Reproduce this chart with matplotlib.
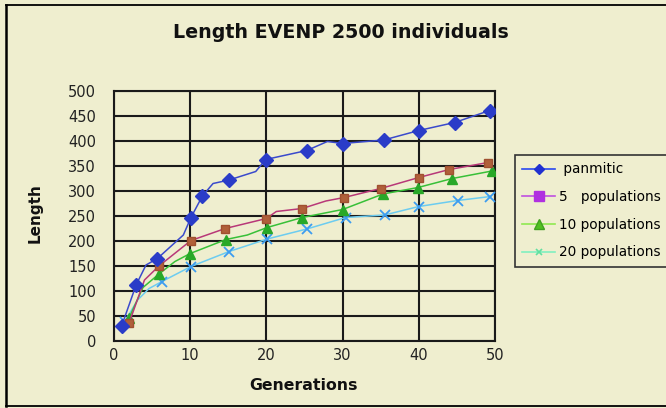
import matplotlib
matplotlib.use("Agg")
import matplotlib.pyplot as plt
from matplotlib.lines import Line2D

# ---- data ----
pan_x = [1, 2.9, 4.2, 5.7, 9.1, 10.1, 11.6, 13, 15.1, 18.6, 19.9, 25.3, 28, 30, 35.4, 40, 44.7, 49.3]
pan_y = [30, 112, 152, 165, 212, 247, 290, 315, 322, 339, 363, 381, 399, 395, 402, 421, 437, 461]
pan_mk = [0, 1, 3, 5, 6, 8, 10, 11, 13, 14, 15, 16, 17]

p5_x = [2, 4, 5.9, 10.1, 14.6, 20, 21.3, 24.7, 27.8, 30.2, 35, 40, 44, 49.1]
p5_y = [37, 122, 150, 201, 225, 245, 259, 265, 280, 287, 305, 327, 343, 357]
p5_mk = [0, 2, 3, 4, 5, 7, 9, 10, 11, 12, 13]

p10_x = [2, 3.8, 5.9, 8.0, 10, 14.7, 17.5, 20.1, 24.7, 30, 35.3, 39.9, 44.4, 49.6]
p10_y = [47, 107, 134, 159, 175, 203, 212, 227, 247, 263, 294, 307, 325, 340]
p10_mk = [0, 2, 4, 5, 7, 8, 9, 10, 11, 12, 13]

p20_x = [1.4, 3.1, 4.6, 6.3, 10.1, 15.1, 20.1, 25.3, 30.4, 35.5, 40, 45.1, 49.4]
p20_y = [39, 82, 105, 119, 149, 179, 204, 224, 247, 252, 269, 281, 289]
p20_mk = [0, 3, 4, 5, 6, 7, 8, 9, 10, 11, 12]

labels = [" panmitic", "5   populations", "10 populations", "20 populations"]
x_ticks = [0, 10, 20, 30, 40, 50]
y_ticks = [0, 50, 100, 150, 200, 250, 300, 350, 400, 450, 500]

title = "Length EVENP 2500 individuals"
xlabel = "Generations"
ylabel = "Length"

bg = "#EFEECF"

fig = plt.figure(figsize=(6.66, 4.08), dpi=100, facecolor=bg)
ax = fig.add_axes([114/666, 1-341/408, (495-114)/666, (341-91)/408], facecolor=bg)

ax.plot(pan_x, pan_y, color="#3A4ACC", lw=1.1, marker="D", ms=7.5, mfc="#2A3CC8", mec="#2A3CC8",
        markevery=pan_mk, zorder=6)
ax.plot(p5_x, p5_y, color="#B83878", lw=1.1, marker="s", ms=5.5, mfc="#B0603A", mec="#A05030",
        markevery=p5_mk, zorder=5)
ax.plot(p10_x, p10_y, color="#38C038", lw=1.1, marker="^", ms=6.5, mfc="#28A828", mec="#28A828",
        markevery=p10_mk, zorder=4)
ax.plot(p20_x, p20_y, color="#6CCCF0", lw=1.1, marker="x", ms=7, mec="#3C9CF0", mew=1.3,
        markevery=p20_mk, zorder=3)

ax.set_xlim(0, 50)
ax.set_ylim(0, 500)
ax.set_xticks(x_ticks)
ax.set_yticks(y_ticks)
ax.grid(True, color="#1A1A1A", lw=1.5)
ax.set_axisbelow(True)
for s in ax.spines.values():
    s.set_color("#1A1A1A")
    s.set_linewidth(1.5)
ax.tick_params(axis="both", length=0, labelsize=10.5, colors="#222222")
ax.tick_params(axis="y", pad=13)
ax.tick_params(axis="x", pad=5)

fig.text(341/666, 1-33/408, title, ha="center", va="center", fontsize=13.7,
         fontweight="bold", family="DejaVu Sans", color="#111111")
fig.text(303/666, 1-386/408, xlabel, ha="center", va="center", fontsize=11.3,
         fontweight="bold", family="DejaVu Sans", color="#111111")
fig.text(35/666, 1-213/408, ylabel, ha="center", va="center", rotation=90, fontsize=11,
         fontweight="bold", family="DejaVu Sans", color="#111111")

handles = [
    Line2D([], [], color="#2A48F0", lw=1.2, marker="D", ms=5, mfc="#2030D0", mec="#2030D0"),
    Line2D([], [], color="#C050E0", lw=1.2, marker="s", ms=7, mfc="#B030E0", mec="#B030E0"),
    Line2D([], [], color="#90E850", lw=1.2, marker="^", ms=7, mfc="#50C020", mec="#40A020"),
    Line2D([], [], color="#80F0C0", lw=1.2, marker="x", ms=5, mec="#60E0A0", mew=1.2),
]
leg = fig.legend(handles, labels, loc="upper left", bbox_to_anchor=(515/666, 1-155/408),
                 borderaxespad=0, fontsize=9.8, frameon=True, fancybox=False,
                 edgecolor="#333333", facecolor=bg, framealpha=1, labelspacing=1.0,
                 handlelength=2.4, handletextpad=0.3, borderpad=0.55)
leg.get_frame().set_linewidth(1.2)

# figure border
fig.add_artist(Line2D([6/666, 6/666], [0.005, 1-4.5/408], transform=fig.transFigure,
                      color="black", lw=1.8))
fig.add_artist(Line2D([6/666, 1], [1-4.5/408, 1-4.5/408], transform=fig.transFigure,
                      color="black", lw=1.3))
fig.add_artist(Line2D([6/666, 1], [1-406/408, 1-406/408], transform=fig.transFigure,
                      color="black", lw=1.3))

fig.savefig("out.png", dpi=100, facecolor=bg)
